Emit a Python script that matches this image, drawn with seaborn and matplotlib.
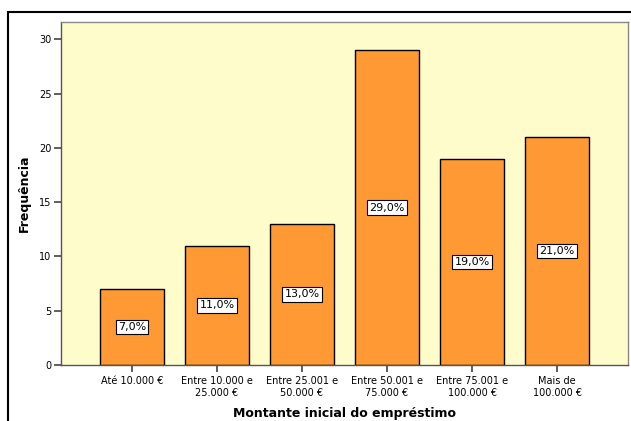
import matplotlib
matplotlib.use("Agg")
import matplotlib.pyplot as plt
import seaborn as sns
import pandas as pd
from matplotlib.lines import Line2D

# Data
categorias = ["Até 10.000 €", "Entre 10.000 e\n25.000 €", "Entre 25.001 e\n50.000 €",
              "Entre 50.001 e\n75.000 €", "Entre 75.001 e\n100.000 €", "Mais de\n100.000 €"]
frequencias = [7, 11, 13, 29, 19, 21]
percentagens = ["7,0%", "11,0%", "13,0%", "29,0%", "19,0%", "21,0%"]

df = pd.DataFrame({"cat": categorias, "freq": frequencias})

sns.set_style("white", {"xtick.bottom": True, "ytick.left": True,
                        "text.color": "black", "axes.labelcolor": "black",
                        "xtick.color": "black", "ytick.color": "black"})
plt.rcParams["font.family"] = ["DejaVu Sans"]

fig = plt.figure(figsize=(6.31, 4.21), dpi=100)
ax = fig.add_axes([61 / 631, 1 - 365 / 421, (628 - 61) / 631, (365 - 22) / 421])
ax.set_facecolor("#FFFCCC")

sns.barplot(data=df, x="cat", y="freq", color="#FF9933", width=0.76,
            edgecolor="black", linewidth=1, saturation=1, ax=ax)

# percentage labels in the middle of each bar
for i, (f, p) in enumerate(zip(frequencias, percentagens)):
    ax.text(i, f / 2, p, ha="center", va="center", fontsize=8,
            bbox=dict(boxstyle="square,pad=0.2", fc="white", ec="black", lw=0.8))

ax.set_xlim(-0.835, 5.835)
ax.set_ylim(0, 31.6)
ax.set_yticks([0, 5, 10, 15, 20, 25, 30])
ax.tick_params(axis="both", length=5, width=1.2, color="#444444", labelsize=7,
               labelcolor="black", pad=2, direction="out")
ax.tick_params(axis="x", pad=3)
ax.set_ylabel("Frequência", fontsize=9, fontweight="bold", labelpad=6)
ax.set_xlabel("Montante inicial do empréstimo", fontsize=9, fontweight="bold", labelpad=7)
for s in ax.spines.values():
    s.set_color("#888888")
    s.set_linewidth(1)
ax.spines["left"].set_color("#555555")
ax.spines["bottom"].set_color("#555555")

# outer frame lines
fig.add_artist(Line2D([8 / 631, 1], [1 - 12 / 421] * 2, color="black", lw=1.5))
fig.add_artist(Line2D([8 / 631] * 2, [0, 1 - 12 / 421], color="black", lw=1.5))

fig.savefig("out.png", dpi=100)
